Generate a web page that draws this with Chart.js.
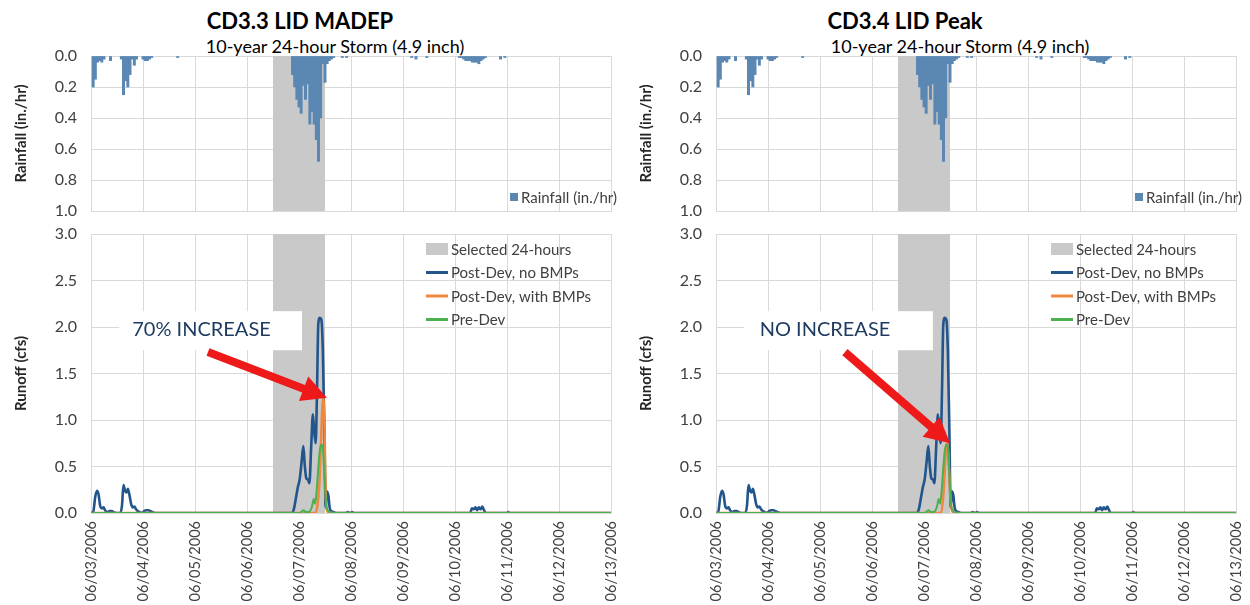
<!DOCTYPE html>
<html>
<head>
<meta charset="utf-8">
<script src="https://cdn.jsdelivr.net/npm/chart.js@4.4.0/dist/chart.umd.min.js"></script>
<style>
  body { margin: 0; background: #fff; width: 1250px; height: 605px; position: relative; overflow: hidden; font-family: Lato, sans-serif; }
  canvas { position: absolute; }
  .title { position: absolute; font-weight: bold; font-size: 22px; line-height: 26px; color: #000; white-space: nowrap; transform: translateX(-50%); }
  .sub { position: absolute; font-size: 18px; line-height: 22px; color: #000; white-space: nowrap; transform: translateX(-50%); }
</style>
</head>
<body>
<div class="title" style="left:300px;top:8px">CD3.3 LID MADEP</div>
<div class="sub" style="left:335px;top:35px">10-year 24-hour Storm (4.9 inch)</div>
<div class="title" style="left:905px;top:8px">CD3.4 LID Peak</div>
<div class="sub" style="left:960px;top:35px">10-year 24-hour Storm (4.9 inch)</div>

<canvas id="rainL" width="625" height="222" style="left:0;top:0"></canvas>
<canvas id="flowL" width="625" height="383" style="left:0;top:222px"></canvas>
<canvas id="rainR" width="625" height="222" style="left:625px;top:0"></canvas>
<canvas id="flowR" width="625" height="383" style="left:625px;top:222px"></canvas>

<script>
// x axis is hours after 06/03/2006 00:00, one tick per day
const dateLabels = ['06/03/2006', '06/04/2006', '06/05/2006', '06/06/2006', '06/07/2006', '06/08/2006',
                    '06/09/2006', '06/10/2006', '06/11/2006', '06/12/2006', '06/13/2006'];

const rainName = 'Rainfall (in./hr)';
const seriesNames = ['Selected 24-hours', 'Post-Dev, no BMPs', 'Post-Dev, with BMPs', 'Pre-Dev'];

// selected 24 hours (06/06 12:00 to 06/07 12:00)
const bandHours = [84, 108];

// hourly rainfall, in./hr
const rainHours = [1, 2, 3, 4, 5, 6, 9,
  14, 15, 16, 17, 18, 19, 20, 21,
  24, 25, 26, 27, 28, 40,
  93, 94, 95, 96, 97, 98, 99, 100, 101, 102, 103, 104, 105, 106, 107, 108, 109, 110, 111, 112,
  116, 118, 148, 150, 155,
  170, 171, 172, 173, 174, 175, 176, 177, 178, 179, 180, 181, 182, 189, 191];
const rainValues = [0.20, 0.15, 0.04, 0.03, 0.04, 0.02, 0.03,
  0.02, 0.25, 0.16, 0.20, 0.12, 0.02, 0.06, 0.02,
  0.02, 0.03, 0.03, 0.02, 0.01, 0.01,
  0.12, 0.20, 0.28, 0.33, 0.37, 0.19, 0.28, 0.18, 0.44, 0.36, 0.44, 0.54, 0.68, 0.40, 0.05, 0.17, 0.05, 0.03, 0.02, 0.01,
  0.01, 0.01, 0.01, 0.02, 0.01,
  0.01, 0.01, 0.02, 0.03, 0.03, 0.03, 0.04, 0.04, 0.04, 0.05, 0.03, 0.02, 0.01, 0.02, 0.01];

// Post-Dev, no BMPs (cfs)
const noBmpHours = [0, 1, 2, 2.8, 3.5, 4.2, 5, 5.8, 6.5, 7.5, 8.5, 9.5, 10.5, 11.5,
  13.5, 14.3, 15, 15.7, 16.4, 17, 17.7, 18.5, 19.2, 20, 20.8, 21.6, 22.5, 23.5,
  24.5, 25.5, 26.5, 27.5, 28.5, 29.5,
  92.5, 93.5, 94.5, 95.4, 96.3, 97.2, 98, 98.7, 99.4, 100.1, 100.8, 101.6, 102.4, 103.1, 103.7,
  104.3, 104.9, 105.6, 106.3, 107, 107.7, 108.3, 109, 109.6, 110.2, 111, 112, 113.5,
  117.5, 118.5, 119.5, 120.5, 121.5,
  175, 175.8, 176.6, 177.4, 178.2, 179, 179.8, 180.6, 181.4, 182.2,
  192, 192.6, 193.2, 240];
const noBmpFlow = [0, 0.01, 0.18, 0.24, 0.2, 0.08, 0.05, 0.06, 0.03, 0.01, 0.02, 0.02, 0.01, 0,
  0, 0.08, 0.30, 0.24, 0.22, 0.26, 0.20, 0.10, 0.06, 0.07, 0.04, 0.02, 0.01, 0,
  0.02, 0.03, 0.03, 0.02, 0.01, 0,
  0, 0.03, 0.15, 0.27, 0.36, 0.55, 0.72, 0.50, 0.37, 0.36, 0.32, 0.70, 1.06, 0.85, 0.75,
  1.30, 2.03, 2.10, 2.08, 1.75, 0.90, 0.06, 0.23, 0.18, 0.05, 0.02, 0.01, 0,
  0, 0.01, 0, 0.01, 0,
  0, 0.05, 0.04, 0.06, 0.03, 0.06, 0.04, 0.07, 0.03, 0,
  0, 0.01, 0, 0];

// Post-Dev, with BMPs (cfs) - MADEP design
const madepHours = [0, 103.4, 104.5, 105.5, 106.2, 106.8, 107.3, 107.8, 108.3, 108.9, 110, 240];
const madepFlow = [0, 0, 0.08, 0.35, 0.80, 1.15, 1.24, 0.90, 0.25, 0.03, 0, 0];

// Post-Dev, with BMPs (cfs) - Peak design
const peakHours = [0, 103.8, 104.8, 105.6, 106.3, 106.9, 107.5, 108.1, 108.7, 110, 240];
const peakFlow = [0, 0, 0.15, 0.45, 0.72, 0.75, 0.50, 0.20, 0.04, 0, 0];

// Pre-Dev (cfs)
const preDevHours = [0, 96.5, 97.4, 98.2, 99, 100.5, 101.3, 102, 102.8, 103.4, 104, 104.8, 105.5,
  106.2, 106.9, 107.5, 108.1, 108.6, 109.3, 110.5, 111.5, 240];
const preDevFlow = [0, 0, 0.02, 0.03, 0.01, 0.01, 0.03, 0.07, 0.15, 0.10, 0.20, 0.45, 0.65,
  0.73, 0.72, 0.50, 0.25, 0.08, 0.03, 0.01, 0, 0];

// callouts: white label box, text and red arrow, in data units (hours, cfs)
const notes = [
  { text: '70% INCREASE', box: [13, 97.4, 1.75, 2.17], at: [51, 1.97], tail: [54, 1.73], tip: [108.9, 1.24] },
  { text: 'NO INCREASE', box: [13, 100.1, 1.75, 2.17], at: [50.3, 1.97], tail: [59.5, 1.73], tip: [108, 0.75] }
];

Chart.defaults.font.family = 'Lato';
Chart.defaults.color = '#404040';

const GRID = '#d9d9d9';

function pts(xs, ys) {
  return xs.map((x, i) => ({ x: x, y: ys[i] }));
}

// legend drawn inside the plot area
function insideLegend(dx, dy, step) {
  return {
    id: 'insideLegend',
    afterDraw(chart) {
      const ctx = chart.ctx, a = chart.chartArea;
      ctx.save();
      ctx.font = '15px Lato';
      ctx.textBaseline = 'middle';
      let y = a.top + dy;
      chart.data.datasets.forEach(ds => {
        if (!ds.inLegend) return;
        const x = a.left + dx;
        if (ds.type === 'bar') {
          ctx.fillStyle = ds.backgroundColor;
          ctx.fillRect(x + 14, y - 4, 8, 8);
        } else if (ds.fill) {
          ctx.fillStyle = ds.backgroundColor;
          ctx.fillRect(x, y - 6, 22, 12);
        } else {
          ctx.fillStyle = ds.borderColor;
          ctx.fillRect(x, y - 1.5, 22, 3);
        }
        ctx.fillStyle = '#404040';
        ctx.fillText(ds.label, x + 25, y + 1);
        y += step;
      });
      ctx.restore();
    }
  };
}

function callout(note) {
  return {
    id: 'callout',
    afterDatasetsDraw(chart) {
      const ctx = chart.ctx, sx = chart.scales.x, sy = chart.scales.y;
      const x0 = sx.getPixelForValue(note.box[0]), x1 = sx.getPixelForValue(note.box[1]);
      const y0 = sy.getPixelForValue(note.box[3]), y1 = sy.getPixelForValue(note.box[2]);
      ctx.save();
      ctx.fillStyle = '#ffffff';
      ctx.fillRect(x0, y0, x1 - x0, y1 - y0);
      ctx.font = '20px Lato';
      ctx.fillStyle = '#1d3a5f';
      ctx.textAlign = 'center';
      ctx.textBaseline = 'middle';
      ctx.fillText(note.text, sx.getPixelForValue(note.at[0]), sy.getPixelForValue(note.at[1]));

      const ax = sx.getPixelForValue(note.tail[0]), ay = sy.getPixelForValue(note.tail[1]);
      const bx = sx.getPixelForValue(note.tip[0]), by = sy.getPixelForValue(note.tip[1]);
      const ang = Math.atan2(by - ay, bx - ax), len = Math.hypot(bx - ax, by - ay);
      const head = 25, hw = 13, sw = 4;
      ctx.translate(ax, ay);
      ctx.rotate(ang);
      ctx.beginPath();
      ctx.moveTo(0, -sw);
      ctx.lineTo(len - head, -sw);
      ctx.lineTo(len - head, -hw);
      ctx.lineTo(len, 0);
      ctx.lineTo(len - head, hw);
      ctx.lineTo(len - head, sw);
      ctx.lineTo(0, sw);
      ctx.closePath();
      ctx.fillStyle = '#ee1a1a';
      ctx.fill();
      ctx.restore();
    }
  };
}

function yTitle(text) {
  return { display: true, text: text, color: '#262626', font: { size: 15, weight: 'bold' }, padding: { top: 12, bottom: 0 } };
}

// fixed axis sizes so both plot areas line up exactly
function fixY(s) { s.width = 91; s.paddingTop = 0; s.paddingBottom = 0; }
function fixX(h) { return s => { s.height = h; s.paddingLeft = 0; s.paddingRight = 0; }; }

function makeRain(id) {
  new Chart(document.getElementById(id), {
    data: {
      datasets: [
        {
          type: 'line', label: seriesNames[0], order: 2,
          data: pts(bandHours, [1, 1]),
          fill: 'origin', backgroundColor: '#c9c9c9', borderWidth: 0, pointRadius: 0
        },
        {
          type: 'bar', label: rainName, order: 1, inLegend: true,
          data: pts(rainHours, rainValues),
          backgroundColor: '#5b87b3', barThickness: 2.3
        }
      ]
    },
    options: {
      responsive: false, animation: false,
      layout: { padding: { top: 56, right: 14, left: 0, bottom: 0 } },
      plugins: { legend: { display: false }, tooltip: { enabled: false } },
      scales: {
        x: {
          type: 'linear', min: 0, max: 240, offset: false,
          ticks: { display: false, stepSize: 24 },
          grid: { color: GRID, drawTicks: false, offset: false },
          border: { color: GRID },
          afterFit: fixX(11)
        },
        y: {
          min: 0, max: 1, reverse: true,
          ticks: { stepSize: 0.2, padding: 14, font: { size: 16 }, callback: v => v.toFixed(1) },
          grid: { color: GRID, drawTicks: false },
          border: { color: GRID },
          title: yTitle('Rainfall (in./hr)'),
          afterFit: fixY
        }
      }
    },
    plugins: [insideLegend(405, 141, 0)]
  });
}

function makeFlow(id, bmpHours, bmpFlow, note) {
  const line = (label, xs, ys, color, order, w) => ({
    type: 'line', label: label, order: order, inLegend: true,
    data: pts(xs, ys), borderColor: color, borderWidth: w,
    pointRadius: 0, fill: false, cubicInterpolationMode: 'monotone'
  });
  new Chart(document.getElementById(id), {
    data: {
      datasets: [
        {
          type: 'line', label: seriesNames[0], order: 4, inLegend: true,
          data: pts(bandHours, [3, 3]),
          fill: 'origin', backgroundColor: '#c9c9c9', borderWidth: 0, pointRadius: 0
        },
        line(seriesNames[1], noBmpHours, noBmpFlow, '#21558c', 3, 2.6),
        line(seriesNames[2], bmpHours, bmpFlow, '#f0883e', 2, 2.5),
        line(seriesNames[3], preDevHours, preDevFlow, '#4caf50', 1, 2)
      ]
    },
    options: {
      responsive: false, animation: false,
      layout: { padding: { top: 12, right: 14, left: 0, bottom: 0 } },
      plugins: { legend: { display: false }, tooltip: { enabled: false } },
      scales: {
        x: {
          type: 'linear', min: 0, max: 240,
          ticks: {
            stepSize: 24, autoSkip: false, minRotation: 90, maxRotation: 90, padding: 8,
            font: { size: 14.5 }, callback: v => dateLabels[Math.round(v / 24)]
          },
          grid: { color: GRID, drawTicks: false },
          border: { color: GRID },
          afterFit: fixX(92)
        },
        y: {
          min: 0, max: 3,
          ticks: { stepSize: 0.5, padding: 14, font: { size: 16 }, callback: v => v.toFixed(1) },
          grid: { color: GRID, drawTicks: false },
          border: { color: GRID },
          title: yTitle('Runoff (cfs)'),
          afterFit: fixY
        }
      }
    },
    plugins: [callout(note), insideLegend(335, 15, 23.5)]
  });
}

makeRain('rainL');
makeRain('rainR');
makeFlow('flowL', madepHours, madepFlow, notes[0]);
makeFlow('flowR', peakHours, peakFlow, notes[1]);
</script>
</body>
</html>
